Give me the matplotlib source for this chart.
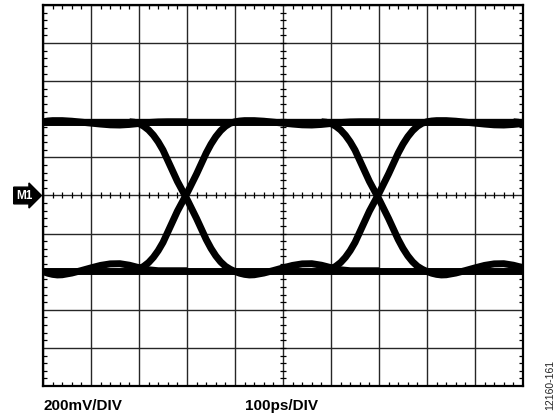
import matplotlib
matplotlib.use("Agg")
import numpy as np
import matplotlib.pyplot as plt
from matplotlib.ticker import MultipleLocator

# Logic levels of the eye (mV)
high_level = 387
low_level = -395

# Times at which the data edges cross the mid level (ps)
crossings = [-600, -200, 200, 600]

# Edge shape: fraction of the full swing vs. time from the crossing (ps)
edge_t = [-120, -110, -100, -90, -80, -70, -60, -50, -40, -30, -20, -10,
          0, 10, 20, 30, 40, 50, 60, 70, 80, 90]
edge_frac = [0.0, 0.003, 0.012, 0.03, 0.055, 0.09, 0.135, 0.19, 0.26, 0.33, 0.40, 0.46,
             0.52, 0.585, 0.65, 0.72, 0.79, 0.85, 0.90, 0.94, 0.97, 0.99]

# Settling after an edge: time from the crossing (ps) and level (mV)
settle_t = [100, 110, 120, 130, 140, 160, 180, 200, 220, 240, 260, 280, 300, 320, 340, 360, 380, 400]
settle_high = [387, 391, 393, 393, 393, 390, 385, 380, 375, 371, 370, 373, 378, 383, 386, 387, 387, 387]
settle_low = [-399, -408, -414, -417, -416, -407, -394, -380, -367, -359, -358, -366, -379, -390, -395, -395, -395, -395]

# Screen: 10 x 10 divisions, 100 ps/div and 200 mV/div
t_span = [-500, 500]
v_span = [-1000, 1000]

fig = plt.figure(figsize=(5.57, 4.19), dpi=100)
ax = fig.add_axes([43 / 557, 33 / 419, 480 / 557, 381 / 419])
ax.set_xlim(t_span)
ax.set_ylim(v_span)

ax.xaxis.set_major_locator(MultipleLocator(100))
ax.yaxis.set_major_locator(MultipleLocator(200))
ax.xaxis.set_minor_locator(MultipleLocator(20))
ax.yaxis.set_minor_locator(MultipleLocator(40))
ax.grid(True, which="major", color="#262626", linewidth=1.0, zorder=1)
ax.tick_params(which="major", length=0, labelbottom=False, labelleft=False)
ax.tick_params(which="minor", direction="in", length=3, width=0.9, color="black",
               top=True, right=True, bottom=True, left=True)
for s in ax.spines.values():
    s.set_linewidth(1.6)
    s.set_color("black")
    s.set_zorder(5)

# Small ticks along the centre graticule lines
minor_t = np.arange(-500, 501, 20)
minor_v = np.arange(-1000, 1001, 40)
ax.plot(minor_t, np.zeros_like(minor_t), ls="none", marker="|", ms=4, mew=0.9,
        color="black", zorder=2)
ax.plot(np.zeros_like(minor_v), minor_v, ls="none", marker="_", ms=4, mew=0.9,
        color="black", zorder=2)

trace = dict(color="black", linewidth=5.0, solid_joinstyle="round",
             solid_capstyle="butt", zorder=3)

# Steady high and steady low levels
ax.plot(t_span, [high_level, high_level], **trace)
ax.plot(t_span, [low_level, low_level], **trace)

swing = high_level - low_level
edge_t_arr = np.array(edge_t)
edge_frac_arr = np.array(edge_frac)
for tc in crossings:
    t_path = np.concatenate([tc + edge_t_arr, tc + np.array(settle_t)])
    rise = np.concatenate([low_level + edge_frac_arr * swing, settle_high])
    fall = np.concatenate([high_level - edge_frac_arr * swing, settle_low])
    ax.plot(t_path, rise, **trace)
    ax.plot(t_path, fall, **trace)

# Channel reference marker
ax.text(-0.022, 0.5, "M1", transform=ax.transAxes, ha="right", va="center",
        color="white", fontsize=8.5, fontweight="bold", family="Liberation Sans",
        bbox=dict(boxstyle="rarrow,pad=0.2", fc="black", ec="black"),
        clip_on=False)

fig.text(43 / 557, 9 / 419, "200mV/DIV", ha="left", va="baseline",
         fontsize=11, fontweight="bold", family="Liberation Sans")
fig.text(245 / 557, 9 / 419, "100ps/DIV", ha="left", va="baseline",
         fontsize=11, fontweight="bold", family="Liberation Sans")
fig.text(550 / 557, 9 / 419, "12160-161", ha="center", va="bottom", rotation=90,
         fontsize=7.5, color="#222222", family="Liberation Sans")

fig.savefig("out.png", dpi=100)
